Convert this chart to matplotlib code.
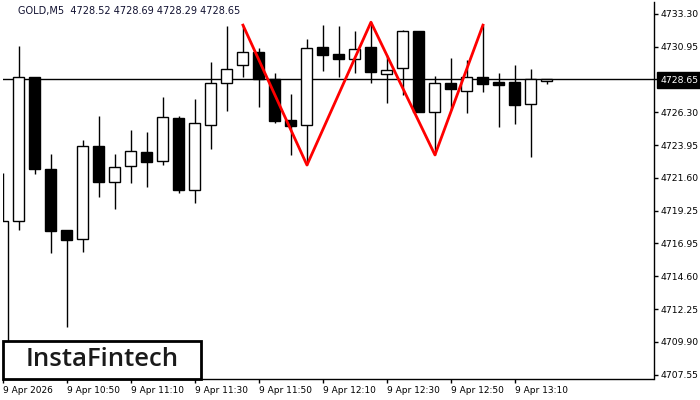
import matplotlib
matplotlib.use("Agg")
import matplotlib.pyplot as plt
from matplotlib.patches import Rectangle
import numpy as np

# ---- data ----
opens  = [4709.00, 4718.54, 4728.79, 4722.24, 4717.90, 4717.25, 4723.88, 4721.31, 4722.45, 4723.45,
          4722.81, 4725.87, 4720.74, 4725.37, 4728.37, 4729.65, 4730.57, 4728.65, 4725.73, 4725.37,
          4730.93, 4730.43, 4730.07, 4730.93, 4729.01, 4729.43, 4732.07, 4726.30, 4728.37, 4727.80,
          4728.79, 4728.44, 4728.44, 4726.87, 4728.52]
highs  = [4721.95, 4731.00, 4728.79, 4723.31, 4717.90, 4724.30, 4726.00, 4723.31, 4725.02, 4724.88,
          4727.37, 4726.00, 4727.23, 4729.86, 4732.42, 4732.50, 4730.86, 4729.08, 4727.58, 4731.50,
          4732.50, 4732.42, 4732.07, 4732.71, 4730.36, 4732.14, 4732.07, 4728.86, 4730.15, 4730.00,
          4732.50, 4729.08, 4729.65, 4729.36, 4728.69]
lows   = [4708.20, 4717.90, 4721.88, 4716.26, 4710.99, 4716.33, 4720.25, 4719.39, 4721.24, 4720.96,
          4722.52, 4720.53, 4719.82, 4723.66, 4726.37, 4728.79, 4726.66, 4725.52, 4723.24, 4722.52,
          4729.22, 4728.79, 4729.08, 4728.37, 4726.94, 4727.51, 4726.30, 4723.24, 4726.44, 4726.23,
          4727.72, 4725.23, 4725.44, 4723.10, 4728.29]
closes = [4718.54, 4728.79, 4722.24, 4717.83, 4717.18, 4723.88, 4721.31, 4722.38, 4723.52, 4722.74,
          4725.94, 4720.74, 4725.52, 4728.37, 4729.36, 4730.57, 4728.65, 4725.66, 4725.30, 4730.86,
          4730.36, 4730.07, 4730.79, 4729.15, 4729.29, 4732.07, 4726.30, 4728.37, 4727.94, 4728.79,
          4728.29, 4728.22, 4726.80, 4728.65, 4728.65]

pattern_idx    = [15, 19, 23, 27, 30]
pattern_prices = [4732.50, 4722.52, 4732.71, 4723.24, 4732.50]

current_price = 4728.65
header = "GOLD,M5  4728.52 4728.69 4728.29 4728.65"

ytick_values = [4733.30, 4730.95, 4728.65, 4726.30, 4723.95, 4721.60, 4719.25,
                4716.95, 4714.60, 4712.25, 4709.90, 4707.55]
xtick_idx    = [0, 4, 8, 12, 16, 20, 24, 28, 32]
xtick_labels = ["9 Apr 2026", "9 Apr 10:50", "9 Apr 11:10", "9 Apr 11:30", "9 Apr 11:50",
                "9 Apr 12:10", "9 Apr 12:30", "9 Apr 12:50", "9 Apr 13:10"]

# ---- figure ----
W, H = 700, 400
fig = plt.figure(figsize=(W / 100, H / 100), dpi=100)
left_px, right_px, top_px, bottom_px = 2.5, 653.5, 2, 379
ax = fig.add_axes([left_px / W, (H - bottom_px) / H,
                   (right_px - left_px) / W, (bottom_px - top_px) / H])

x = np.arange(len(opens))
o = np.array(opens); c = np.array(closes)
hi = np.array(highs); lo = np.array(lows)
up = c >= o

ax.axhline(current_price, color="black", lw=1, zorder=1)
ax.vlines(x, lo, hi, color="black", lw=1, zorder=2)
body_h = np.maximum(np.abs(c - o), 0.02)
ax.bar(x, body_h, bottom=np.minimum(o, c), width=0.69,
       color=np.where(up, "white", "black"), edgecolor="black", linewidth=1, zorder=3)

ax.plot(pattern_idx, pattern_prices, color="#ff0000", lw=2, zorder=4)

# scales: 16 px per candle, candle 0 centred at x=3 px
ax.set_xlim(-0.03, 40.66)
ax.set_ylim(4707.26, 4734.15)

ax.spines["left"].set_visible(False)
ax.spines["top"].set_visible(False)
ax.spines["right"].set_linewidth(1)
ax.spines["bottom"].set_linewidth(1)

ax.yaxis.tick_right()
ax.set_yticks(ytick_values)
ax.set_yticklabels([f"{v:.2f}" for v in ytick_values])
ax.tick_params(axis="y", which="both", length=3, width=1, pad=2, labelsize=6.7, colors="black")
for lbl, v in zip(ax.get_yticklabels(), ytick_values):
    if abs(v - current_price) < 1e-6:
        lbl.set_color("white")
        lbl.set_bbox(dict(facecolor="black", edgecolor="black", pad=2.4))

ax.set_xticks(xtick_idx)
ax.set_xticklabels(xtick_labels, ha="left")
ax.tick_params(axis="x", length=3, width=1, pad=2, labelsize=6.5, colors="black")

fig.text(18 / W, 1 - 11 / H, header, fontsize=7, color="#101030", va="center", ha="left")

# logo
fig.patches.append(Rectangle((3 / W, (H - 379) / H), 198 / W, 38 / H, transform=fig.transFigure,
                             facecolor="white", edgecolor="black", linewidth=2, zorder=5))
fig.text(102 / W, 1 - 359 / H, "InstaFintech", fontsize=18.5, color="#1a1a1a",
         ha="center", va="center", family="Open Sans", weight="semibold", zorder=6)

fig.savefig("out.png", dpi=100)
